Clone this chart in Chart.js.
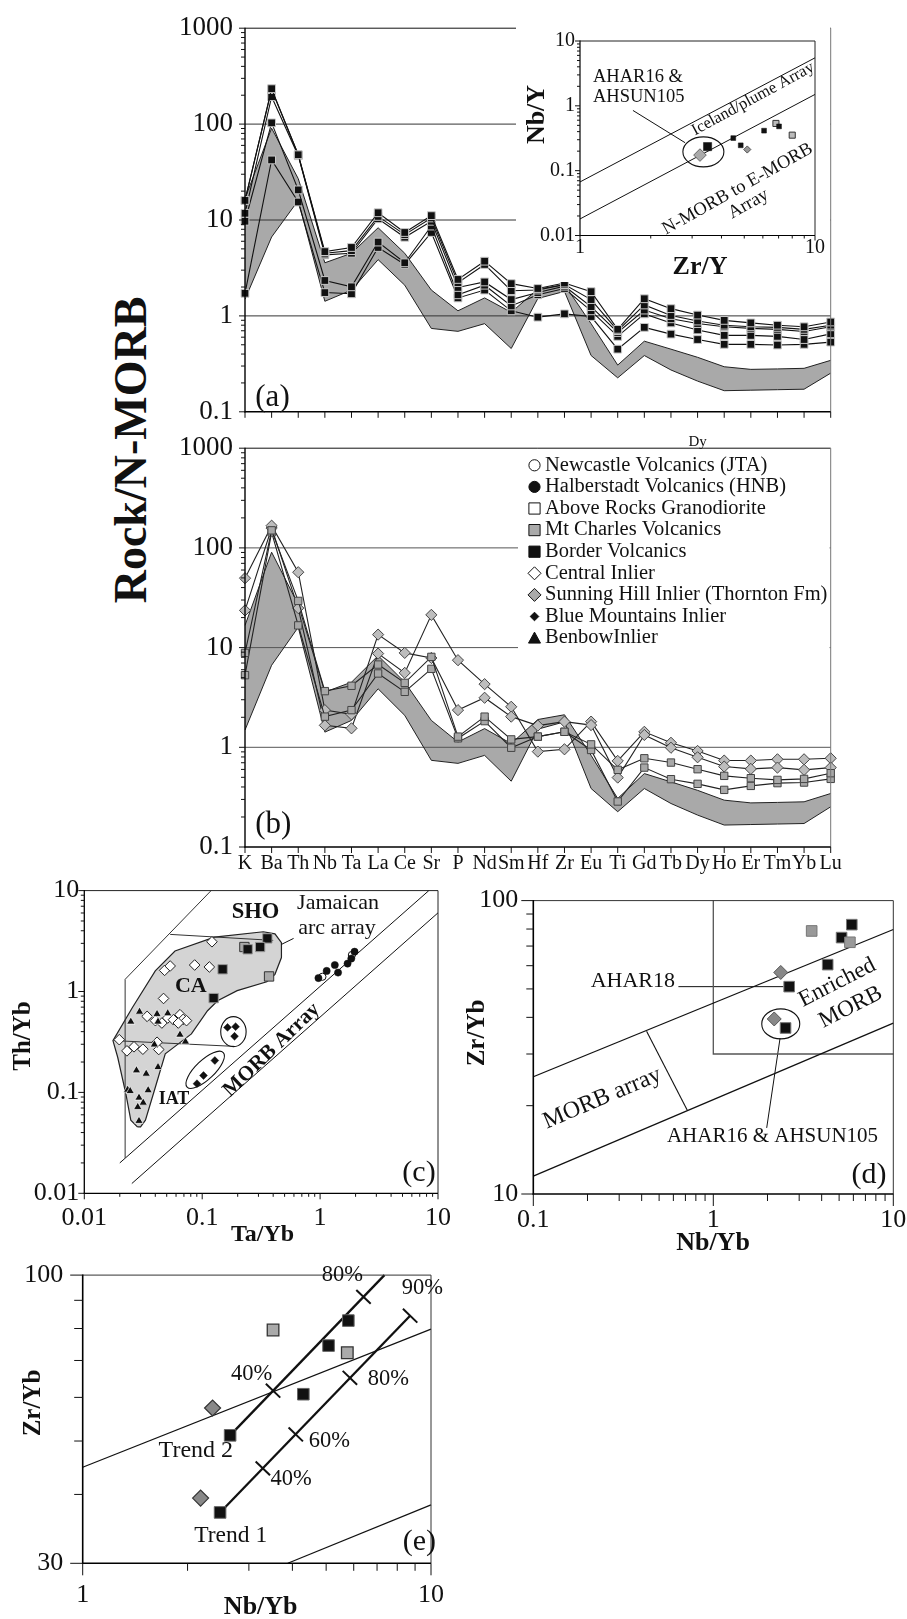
<!DOCTYPE html>
<html>
<head>
<meta charset="utf-8">
<title>Rock/N-MORB spider diagrams and discrimination plots</title>
<script src="https://cdn.jsdelivr.net/npm/chart.js@4.4.1/dist/chart.umd.min.js"></script>
<style>
html, body { margin:0; padding:0; background:#fff; }
#page { position:relative; width:907px; height:1619px; overflow:hidden; background:#fff; }
#page canvas { position:absolute; }
#ylab { position:absolute; left:131px; top:450px; transform:translate(-50%,-50%) rotate(-90deg);
  font-family:'Liberation Serif','Times New Roman',serif; font-weight:bold; font-size:46px;
  line-height:1; white-space:nowrap; color:#111; }
</style>
</head>
<body>
<div id="page"><div id="ylab">Rock/N-MORB</div></div>
<script>
// ================= DATA =================
const elements = ['K','Ba','Th','Nb','Ta','La','Ce','Sr','P','Nd','Sm','Hf','Zr','Eu','Ti','Gd','Tb','Dy','Ho','Er','Tm','Yb','Lu'];
const spiderTicks = [0.1, 1, 10, 100, 1000];
const spiderTickLabels = ['0.1', '1', '10', '100', '1000'];
// grey field (same in a and b)
const fieldUpper = [16.7, 90.5, 27, 3.58, 4.5, 8.3, 4.5, 1.86, 1.13, 1.54, 1.09, 1.9, 2.12, 0.83, 0.307, 0.545, 0.45, 0.37, 0.295, 0.277, 0.28, 0.284, 0.344];
const fieldLower = [1.49, 6.65, 16, 1.42, 1.86, 3.86, 2.09, 0.74, 0.69, 0.83, 0.457, 1.52, 1.8, 0.386, 0.226, 0.386, 0.273, 0.209, 0.166, 0.168, 0.17, 0.172, 0.253];
// panel (a): Border Volcanics
const borderA1 = [16.0, 234, 47.9, 4.68, 5.17, 11.9, 7.41, 11.1, 2.40, 3.72, 2.17, 1.93, 2.20, 1.79, 0.724, 1.51, 1.19, 1.02, 0.898, 0.845, 0.800, 0.770, 0.864];
const borderA2 = [16.0, 229, 47.9, 4.50, 4.79, 10.9, 7.03, 10.5, 2.22, 3.44, 1.83, 1.86, 2.12, 1.48, 0.702, 1.30, 1.01, 0.884, 0.800, 0.770, 0.759, 0.724, 0.800];
const borderA3 = [11.75, 193, 46.8, 4.33, 4.50, 10.3, 6.61, 9.70, 1.98, 2.26, 1.48, 1.75, 2.04, 1.25, 0.671, 1.15, 0.933, 0.832, 0.770, 0.741, 0.724, 0.687, 0.770];
const borderA4 = [9.70, 103, 20.6, 2.34, 2.01, 5.89, 3.58, 8.65, 1.66, 2.09, 1.27, 1.66, 1.93, 1.13, 0.612, 1.05, 0.845, 0.714, 0.626, 0.626, 0.612, 0.567, 0.650];
const borderA5 = [1.72, 42.3, 15.4, 1.75, 1.70, 5.17, 3.44, 7.41, 1.54, 1.86, 1.13, 0.97, 1.05, 0.985, 0.450, 0.759, 0.646, 0.567, 0.505, 0.505, 0.497, 0.505, 0.533];
// panel (b): Sunning Hill (grey diamonds) and Mt Charles (grey squares)
const sunningB1 = [49.7, 167, 57, 2.36, 2.14, 13.5, 8.85, 7.87, 2.36, 3.14, 2.03, 1.65, 1.81, 1.67, 0.497, 1.33, 0.99, 0.794, 0.641, 0.607, 0.626, 0.594, 0.626];
const sunningB2 = [23.6, 158, 24.9, 1.66, 1.55, 8.71, 5.58, 21.3, 7.48, 4.30, 2.55, 0.905, 0.955, 1.81, 0.73, 1.43, 1.11, 0.919, 0.736, 0.736, 0.758, 0.758, 0.776];
const mtCharlesB1 = [8.85, 150, 29.4, 3.66, 4.14, 6.76, 4.43, 8.07, 1.28, 2.03, 1.20, 1.28, 1.43, 1.07, 0.594, 0.776, 0.703, 0.603, 0.517, 0.49, 0.471, 0.482, 0.55];
const mtCharlesB2 = [5.29, 143, 16.7, 2.03, 2.36, 5.50, 3.60, 6.12, 1.23, 1.83, 0.99, 1.28, 1.43, 0.94, 0.286, 0.626, 0.479, 0.43, 0.374, 0.41, 0.437, 0.443, 0.482];
const legendLabels = ['Newcastle Volcanics (JTA)', 'Halberstadt Volcanics (HNB)', 'Above Rocks Granodiorite', 'Mt Charles Volcanics', 'Border Volcanics', 'Central Inlier', 'Sunning Hill Inlier (Thornton Fm)', 'Blue Mountains Inlier', 'BenbowInlier'];
const legendKinds = ['circle', 'circle', 'square', 'square', 'square', 'diamond', 'diamond', 'sdiamond', 'triangle'];
const legendFills = ['#fff', '#111', '#fff', '#aaa', '#111', '#fff', '#aaa', '#111', '#111'];

// inset of (a): Nb/Y vs Zr/Y
const insetTicksX = [1, 10], insetLabelsX = ['1', '10'];
const insetTicksY = [0.01, 0.1, 1, 10], insetLabelsY = ['0.01', '0.1', '1', '10'];
const insetIcelandZrY = [1, 10], insetIcelandNbY = [0.067, 5.5];
const insetMorbZrY = [1, 10], insetMorbNbY = [0.018, 1.5];
const insetBigDiamondZrY = [3.24], insetBigDiamondNbY = [0.174];
const insetBigSquareZrY = [3.49], insetBigSquareNbY = [0.235];
const insetBlackZrY = [4.49, 4.83, 6.07, 7.03], insetBlackNbY = [0.318, 0.246, 0.414, 0.482];
const insetDiamondZrY = [5.15], insetDiamondNbY = [0.212];
const insetGreyZrY = [6.82, 8.0], insetGreyNbY = [0.535, 0.353];
const insetLeaderZrY = [1.68, 2.80], insetLeaderNbY = [0.849, 0.27];
const insetEllipseZrY = [3.35], insetEllipseNbY = [0.195];

// panel (c): Th/Yb vs Ta/Yb
const cTicksX = [0.01, 0.1, 1, 10], cLabelsX = ['0.01', '0.1', '1', '10'];
const cTicksY = [0.01, 0.1, 1, 10], cLabelsY = ['0.01', '0.1', '1', '10'];
const cArcTa = [0.0282, 0.0248, 0.0225, 0.0192, 0.0175, 0.0256, 0.040, 0.0588, 0.127, 0.33, 0.414, 0.47, 0.47, 0.414, 0.353, 0.198, 0.135, 0.111, 0.081, 0.0552, 0.0486, 0.0401, 0.033, 0.030, 0.0282];
const cArcTh = [0.0455, 0.053, 0.097, 0.223, 0.326, 0.695, 1.60, 2.52, 3.46, 3.91, 3.73, 3.05, 2.17, 1.48, 1.25, 1.02, 0.81, 0.645, 0.38, 0.27, 0.241, 0.113, 0.053, 0.0455, 0.0455];
const cOuterTa = [0.0222, 0.0222, 0.119], cOuterTh = [0.0224, 1.32, 10];
const cMorbUpTa = [0.02, 8.36], cMorbUpTh = [0.02, 10];
const cMorbLoTa = [0.0253, 10], cMorbLoTh = [0.0125, 6.02];
const cShoTa = [0.0535, 0.40], cShoTh = [3.68, 3.21];
const cIatTa = [0.018, 0.186], cIatTh = [0.326, 0.286];
const cLeaderTa = [0.47, 0.596], cLeaderTh = [2.93, 3.36];
const cCentralTa = [0.0198, 0.0230, 0.0264, 0.0314, 0.0428, 0.0341, 0.0401, 0.048, 0.0535, 0.047, 0.0863, 0.115, 0.121, 0.051, 0.057, 0.0648, 0.069, 0.0736, 0.0627, 0.0414, 0.0455];
const cCentralTh = [0.333, 0.258, 0.283, 0.268, 0.266, 0.567, 0.514, 1.62, 1.79, 0.853, 1.83, 1.75, 3.11, 0.546, 0.525, 0.589, 0.53, 0.514, 0.487, 0.314, 0.487];
const cBenbowTa = [0.0248, 0.0294, 0.0414, 0.0422, 0.051, 0.0648, 0.0721, 0.0393, 0.0277, 0.0335, 0.0422, 0.0233, 0.0245, 0.0291, 0.0316, 0.0348, 0.0284, 0.0291];
const cBenbowTh = [0.502, 0.63, 0.598, 0.502, 0.607, 0.373, 0.318, 0.298, 0.165, 0.153, 0.178, 0.106, 0.103, 0.0886, 0.079, 0.105, 0.0716, 0.0521];
const cBorderTa = [0.357, 0.31, 0.243, 0.149, 0.125], cBorderTh = [3.36, 2.76, 2.62, 1.66, 0.86];
const cMtCharlesTa = [0.228, 0.369], cMtCharlesTh = [2.76, 1.41];
const cBlueMtnTa = [0.164, 0.192, 0.188, 0.0903, 0.1026, 0.128], cBlueMtnTh = [0.441, 0.448, 0.36, 0.122, 0.147, 0.207];
const cHalberTa = [0.968, 1.137, 1.333, 1.42, 1.71, 1.84, 1.96], cHalberTh = [1.36, 1.60, 1.83, 1.54, 1.89, 2.12, 2.48];
const cNewcastleTa = [1.046, 1.86], cNewcastleTh = [1.40, 2.30];
const cEllipseTa = [0.184, 0.106], cEllipseTh = [0.40, 0.1675];

// panel (d): Zr/Yb vs Nb/Yb
const dTicksX = [0.1, 1, 10], dLabelsX = ['0.1', '1', '10'];
const dTicksY = [10, 100], dLabelsY = ['10', '100'];
const dMorbUpNb = [0.1, 10], dMorbUpZr = [25.1, 79.7];
const dMorbLoNb = [0.1, 10], dMorbLoZr = [11.5, 38.2];
const dCrossNb = [0.426, 0.717], dCrossZr = [35.9, 19.3];
const dBoxNb = [1, 1, 10], dBoxZr = [100, 30, 30];
const dMtCharlesNb = [3.52, 5.74], dMtCharlesZr = [78.8, 72.1];
const dBorderNb = [5.88, 5.16, 4.32, 2.64, 2.52], dBorderZr = [82.8, 74.8, 60.5, 50.9, 36.8];
const dSunningNb = [2.37, 2.18], dSunningZr = [56.9, 39.5];
const dAhar18Nb = [0.64, 2.45], dAhar18Zr = [50.9, 50.9];
const dAhar16Nb = [2.35, 1.98], dAhar16Zr = [34.0, 16.8];
const dEllipseNb = [2.37], dEllipseZr = [38.0];

// panel (e): Zr/Yb vs Nb/Yb, enlarged
const eTicksX = [1, 10], eLabelsX = ['1', '10'];
const eTicksY = [30, 100], eLabelsY = ['30', '100'];
const eMinorY = [40, 50, 60, 70, 80, 90];
const eMorbUpNb = [1, 10], eMorbUpZr = [44.8, 79.8];
const eMorbLoNb = [3.88, 10], eMorbLoZr = [30, 38.3];
const eTrend1Nb = [2.48, 8.71], eTrend1Zr = [37.1, 84.4];
const eTrend2Nb = [2.65, 7.35], eTrend2Zr = [51.2, 100];
const eTrend1TickNb = [3.29, 4.09, 5.85, 8.71], eTrend1TickZr = [44.6, 51.4, 65.1, 84.4];
const eTrend2TickNb = [3.52, 6.40], eTrend2TickZr = [61.7, 91.3];
const eMtCharlesNb = [3.52, 5.75], eMtCharlesZr = [79.5, 72.3];
const eBorderNb = [5.79, 5.08, 4.30, 2.65, 2.48], eBorderZr = [82.7, 74.5, 60.8, 51.2, 37.1];
const eSunningNb = [2.36, 2.18], eSunningZr = [57.4, 39.4];

// ================= HELPERS =================
const FONT = "'Liberation Serif','Times New Roman',Times,serif";
Chart.defaults.font.family = FONT;
Chart.defaults.color = '#111';
const page = document.getElementById('page');

function makeCanvas(left, top, w, h) {
  const c = document.createElement('canvas');
  c.width = w; c.height = h;
  c.style.left = left + 'px'; c.style.top = top + 'px';
  c.style.width = w + 'px'; c.style.height = h + 'px';
  page.appendChild(c);
  return c;
}
function T(ctx, off, s, x, y, size, o) {
  o = o || {};
  ctx.save();
  ctx.font = (o.bold ? 'bold ' : '') + size + 'px ' + FONT;
  ctx.fillStyle = o.color || '#111';
  ctx.textAlign = o.align || 'center';
  ctx.textBaseline = 'middle';
  ctx.translate(x - off[0], y - off[1]);
  if (o.rot) ctx.rotate(o.rot * Math.PI / 180);
  ctx.fillText(s, 0, 0);
  ctx.restore();
}
function seg(ctx, x0, y0, x1, y1) { ctx.beginPath(); ctx.moveTo(x0, y0); ctx.lineTo(x1, y1); ctx.stroke(); }
function minorsOf(majors) {
  const out = [];
  for (let i = 0; i < majors.length - 1; i++) for (let k = 2; k <= 9; k++) out.push(+(majors[i] * k).toPrecision(6));
  return out;
}
function frame(chart, topC, rightC, axisW) {
  const ctx = chart.ctx, a = chart.chartArea;
  ctx.save();
  ctx.lineWidth = 1;
  ctx.strokeStyle = topC; seg(ctx, a.left, a.top, a.right, a.top);
  ctx.strokeStyle = rightC; seg(ctx, a.right, a.top, a.right, a.bottom);
  ctx.lineWidth = axisW || 1.4; ctx.strokeStyle = '#000';
  seg(ctx, a.left, a.top - 0.5, a.left, a.bottom + 0.7);
  seg(ctx, a.left - 0.7, a.bottom, a.right, a.bottom);
  ctx.restore();
}
function logTicks(chart, axis, majors, minors, majLen, minLen) {
  const ctx = chart.ctx, a = chart.chartArea, s = chart.scales[axis];
  ctx.save(); ctx.strokeStyle = '#111'; ctx.lineWidth = 1;
  const draw = (v, len) => {
    const p = s.getPixelForValue(v);
    if (axis === 'y') seg(ctx, a.left, p, a.left - len, p);
    else seg(ctx, p, a.bottom, p, a.bottom + len);
  };
  majors.forEach(v => draw(v, majLen));
  minors.forEach(v => draw(v, minLen));
  ctx.restore();
}
function catTicks(chart, n, len) {
  const ctx = chart.ctx, a = chart.chartArea, s = chart.scales.x;
  ctx.save(); ctx.strokeStyle = '#111'; ctx.lineWidth = 1;
  for (let i = 0; i < n; i++) { const p = s.getPixelForValue(i); seg(ctx, p, a.bottom, p, a.bottom + len); }
  ctx.restore();
}
function hGrid(chart, values, color, width) {
  const ctx = chart.ctx, a = chart.chartArea, s = chart.scales.y;
  ctx.save(); ctx.strokeStyle = color; ctx.lineWidth = width || 1;
  values.forEach(v => { const p = s.getPixelForValue(v); seg(ctx, a.left, p, a.right, p); });
  ctx.restore();
}
function ellipseAt(chart, xv, yv, rx, ry, rotDeg) {
  const ctx = chart.ctx;
  const cx = chart.scales.x.getPixelForValue(xv), cy = chart.scales.y.getPixelForValue(yv);
  ctx.save(); ctx.strokeStyle = '#111'; ctx.lineWidth = 1.1;
  ctx.beginPath(); ctx.ellipse(cx, cy, rx, ry, rotDeg * Math.PI / 180, 0, Math.PI * 2); ctx.stroke();
  ctx.restore();
}
function trendTicks(chart, lx, ly, tx, ty, half) {
  const ctx = chart.ctx, sx = chart.scales.x, sy = chart.scales.y;
  const x0 = sx.getPixelForValue(lx[0]), y0 = sy.getPixelForValue(ly[0]);
  const x1 = sx.getPixelForValue(lx[1]), y1 = sy.getPixelForValue(ly[1]);
  const L = Math.hypot(x1 - x0, y1 - y0), px = -(y1 - y0) / L, py = (x1 - x0) / L;
  ctx.save(); ctx.strokeStyle = '#111'; ctx.lineWidth = 2;
  tx.forEach((v, i) => {
    const cx = sx.getPixelForValue(v), cy = sy.getPixelForValue(ty[i]);
    seg(ctx, cx - px * half, cy - py * half, cx + px * half, cy + py * half);
  });
  ctx.restore();
}
function sym(ctx, kind, x, y, fillC) {
  ctx.save(); ctx.fillStyle = fillC; ctx.strokeStyle = '#111'; ctx.lineWidth = 1;
  ctx.beginPath();
  if (kind === 'circle') ctx.arc(x, y, 5.6, 0, Math.PI * 2);
  else if (kind === 'square') ctx.rect(x - 5.6, y - 5.6, 11.2, 11.2);
  else if (kind === 'diamond') { ctx.moveTo(x, y - 6.5); ctx.lineTo(x + 6.5, y); ctx.lineTo(x, y + 6.5); ctx.lineTo(x - 6.5, y); ctx.closePath(); }
  else if (kind === 'sdiamond') { ctx.moveTo(x, y - 4.3); ctx.lineTo(x + 4.3, y); ctx.lineTo(x, y + 4.3); ctx.lineTo(x - 4.3, y); ctx.closePath(); }
  else if (kind === 'triangle') { ctx.moveTo(x, y - 6); ctx.lineTo(x + 6, y + 5); ctx.lineTo(x - 6, y + 5); ctx.closePath(); }
  ctx.fill(); ctx.stroke(); ctx.restore();
}
function pts(xs, ys) { return xs.map((x, i) => ({x: x, y: ys[i]})); }
function lineDs(xs, ys, color, width, extra) {
  return Object.assign({data: pts(xs, ys), showLine: true, pointRadius: 0, borderColor: color,
    borderWidth: width, fill: false, clip: false, order: 5, tension: 0}, extra || {});
}
function markDs(xs, ys, style, radius, fillC, strokeC, bw) {
  return {data: pts(xs, ys), showLine: false, pointStyle: style, pointRadius: radius,
    pointBackgroundColor: fillC, pointBorderColor: strokeC, pointBorderWidth: bw,
    backgroundColor: fillC, borderColor: strokeC, clip: false, order: 1};
}
function logAxis(pos, ticks, labels, g) {
  const horiz = pos === 'bottom';
  return {
    type: 'logarithmic', position: pos, min: ticks[0], max: ticks[ticks.length - 1],
    afterBuildTicks: s => { s.ticks = ticks.map(v => ({value: v})); },
    afterFit: s => { if (horiz) s.height = g.xh; else s.width = g.yw; },
    grid: {display: false, drawTicks: false}, border: {display: false},
    ticks: {autoSkip: false, maxRotation: 0, minRotation: 0, padding: horiz ? g.xp : g.yp,
      font: {size: g.fs}, color: '#111', callback: (v, i) => labels[i]}
  };
}
function logScatter(canvas, g, xT, xL, yT, yL, datasets, plugin) {
  return new Chart(canvas, {
    type: 'scatter',
    data: {datasets: datasets},
    options: {
      responsive: false, animation: false, devicePixelRatio: 1, events: [],
      layout: {padding: {left: 0, top: g.pt, right: g.pr, bottom: 0}},
      plugins: {legend: {display: false}, tooltip: {enabled: false}, filler: {drawTime: 'beforeDatasetsDraw'}},
      scales: {x: logAxis('bottom', xT, xL, g), y: logAxis('left', yT, yL, g)}
    },
    plugins: [plugin]
  });
}
function spiderChart(canvas, pad, showX, xh, xp, datasets, plugin) {
  return new Chart(canvas, {
    type: 'line',
    data: {labels: elements, datasets: datasets},
    options: {
      responsive: false, animation: false, devicePixelRatio: 1, events: [],
      layout: {padding: pad},
      plugins: {legend: {display: false}, tooltip: {enabled: false}, filler: {drawTime: 'beforeDatasetsDraw'}},
      scales: {
        x: {type: 'category', offset: false, display: showX,
          afterFit: s => { s.height = xh; },
          grid: {display: false, drawTicks: false}, border: {display: false},
          ticks: {autoSkip: false, maxRotation: 0, minRotation: 0, padding: xp, font: {size: 20}, color: '#111'}},
        y: {type: 'logarithmic', position: 'left', min: 0.1, max: 1000,
          afterBuildTicks: s => { s.ticks = spiderTicks.map(v => ({value: v})); },
          afterFit: s => { s.width = 245; },
          grid: {display: false, drawTicks: false}, border: {display: false},
          ticks: {autoSkip: false, padding: 12, font: {size: 27}, color: '#111', callback: (v, i) => spiderTickLabels[i]}}
      }
    },
    plugins: [plugin]
  });
}
function bandSets() {
  return [
    {data: fieldUpper, borderColor: '#222', borderWidth: 1, backgroundColor: '#a9a9a9', fill: '+1', pointRadius: 0, order: 10, tension: 0},
    {data: fieldLower, borderColor: '#222', borderWidth: 1, fill: false, pointRadius: 0, order: 11, tension: 0}
  ];
}
function sampleLine(values, style) {
  return Object.assign({data: values, fill: false, borderWidth: 1.1, tension: 0, clip: false, order: 1}, style);
}
const borderStyle = {borderColor: '#111', pointStyle: 'rect', pointRadius: 5.5, pointBackgroundColor: '#111', pointBorderColor: '#c8c8c8', pointBorderWidth: 1};
const sunningStyle = {borderColor: '#222', pointStyle: 'rectRot', pointRadius: 5.6, pointBackgroundColor: '#bdbdbd', pointBorderColor: '#444', pointBorderWidth: 1};
const mtCharlesStyle = {borderColor: '#222', pointStyle: 'rect', pointRadius: 5.2, pointBackgroundColor: '#a8a8a8', pointBorderColor: '#444', pointBorderWidth: 1};

// ================= PANEL (a) =================
const offA = [0, 0];
spiderChart(makeCanvas(0, 0, 907, 440), {left: 0, top: 22.7, right: 76.3, bottom: 18.3}, false, 0, 0,
  bandSets().concat([borderA1, borderA2, borderA3, borderA4, borderA5].map(v => sampleLine(v, borderStyle))),
  {
    id: 'decorA',
    beforeDatasetsDraw(chart) { hGrid(chart, [1, 10, 100], '#333'); },
    afterDatasetsDraw(chart) {
      frame(chart, '#111', '#777');
      logTicks(chart, 'y', spiderTicks, minorsOf(spiderTicks), 6, 4);
      catTicks(chart, elements.length, 6);
    },
    afterDraw(chart) { T(chart.ctx, offA, '(a)', 272.5, 398.3, 31); }
  });

// ================= INSET =================
const offI = [516, 23.5];
logScatter(makeCanvas(516, 23.5, 314, 258.3), {pt: 12.5, pr: 15, yw: 64, xh: 46.5, xp: 0, yp: 5, fs: 20},
  insetTicksX, insetLabelsX, insetTicksY, insetLabelsY,
  [
    lineDs(insetIcelandZrY, insetIcelandNbY, '#111', 1),
    lineDs(insetMorbZrY, insetMorbNbY, '#111', 1),
    lineDs(insetLeaderZrY, insetLeaderNbY, '#111', 1),
    markDs(insetBlackZrY, insetBlackNbY, 'rect', 3.4, '#111', '#111', 0.5),
    markDs(insetDiamondZrY, insetDiamondNbY, 'rectRot', 3.6, '#999', '#333', 0.8),
    markDs(insetGreyZrY, insetGreyNbY, 'rect', 4.3, '#bbb', '#333', 1),
    markDs(insetBigSquareZrY, insetBigSquareNbY, 'rect', 5.8, '#111', '#111', 0.5),
    markDs(insetBigDiamondZrY, insetBigDiamondNbY, 'rectRot', 6.3, '#aaa', '#666', 1)
  ],
  {
    id: 'decorI',
    beforeDraw(chart) { const c = chart.ctx; c.save(); c.fillStyle = '#fff'; c.fillRect(0, 0, chart.width, chart.height); c.restore(); },
    afterDatasetsDraw(chart) {
      frame(chart, '#222', '#222', 1.2);
      logTicks(chart, 'y', insetTicksY, minorsOf(insetTicksY), 5, 3);
      logTicks(chart, 'x', insetTicksX, minorsOf(insetTicksX), 5, 3);
      ellipseAt(chart, insetEllipseZrY[0], insetEllipseNbY[0], 20.5, 15, 0);
    },
    afterDraw(chart) {
      const c = chart.ctx;
      T(c, offI, 'AHAR16 &', 593, 77, 18.5, {align: 'left'});
      T(c, offI, 'AHSUN105', 593, 97, 18.5, {align: 'left'});
      T(c, offI, 'Iceland/plume Array', 753, 98.5, 16.5, {rot: -28.5});
      T(c, offI, 'N-MORB to E-MORB', 737.5, 188.5, 18.5, {rot: -29.3});
      T(c, offI, 'Array', 748.5, 203.5, 18.5, {rot: -29.3});
      T(c, offI, 'Nb/Y', 537, 114, 26, {bold: true, rot: -90});
      T(c, offI, 'Zr/Y', 700, 267, 26, {bold: true});
    }
  });

// ================= PANEL (b) =================
const offB = [0, 420];
spiderChart(makeCanvas(0, 420, 907, 460), {left: 0, top: 27.7, right: 76.3, bottom: 0}, true, 33, 5,
  bandSets().concat([
    sampleLine(mtCharlesB1, mtCharlesStyle), sampleLine(mtCharlesB2, mtCharlesStyle),
    sampleLine(sunningB1, sunningStyle), sampleLine(sunningB2, sunningStyle)
  ]),
  {
    id: 'decorB',
    beforeDatasetsDraw(chart) {
      hGrid(chart, [1, 10, 100], '#555');
      const c = chart.ctx; c.save(); c.fillStyle = '#fff';
      c.fillRect(518 - offB[0], 448.6 - offB[1], 311.6, 206.4); c.restore();
    },
    afterDatasetsDraw(chart) {
      frame(chart, '#111', '#777');
      logTicks(chart, 'y', spiderTicks, minorsOf(spiderTicks), 6, 4);
      catTicks(chart, elements.length, 6);
    },
    afterDraw(chart) {
      const c = chart.ctx;
      T(c, offB, '(b)', 273.3, 825, 31);
      T(c, offB, 'Dy', 697.6, 442, 15);
      legendLabels.forEach((lab, i) => {
        const y = 465.3 + i * 21.6;
        sym(c, legendKinds[i], 534.5 - offB[0], y - offB[1], legendFills[i]);
        T(c, offB, lab, 545, y, 20.5, {align: 'left'});
      });
    }
  });

// ================= PANEL (c) =================
const offC = [0, 870];
logScatter(makeCanvas(0, 870, 460, 390), {pt: 19.3, pr: 15.7, yw: 84.3, xh: 66.7, xp: 9, yp: 5, fs: 26},
  cTicksX, cLabelsX, cTicksY, cLabelsY,
  [
    lineDs(cArcTa, cArcTh, '#222', 1.2, {fill: 'shape', backgroundColor: '#d4d4d4', order: 8}),
    lineDs(cOuterTa, cOuterTh, '#333', 1),
    lineDs(cMorbUpTa, cMorbUpTh, '#111', 1),
    lineDs(cMorbLoTa, cMorbLoTh, '#111', 1),
    lineDs(cShoTa, cShoTh, '#333', 1),
    lineDs(cIatTa, cIatTh, '#333', 1),
    lineDs(cLeaderTa, cLeaderTh, '#111', 1),
    markDs(cBenbowTa, cBenbowTh, 'triangle', 4.8, '#111', '#fff', 0.7),
    markDs(cCentralTa, cCentralTh, 'rectRot', 5.3, '#fff', '#222', 1),
    markDs(cBorderTa, cBorderTh, 'rect', 6.6, '#111', '#999', 1),
    markDs(cMtCharlesTa, cMtCharlesTh, 'rect', 6.6, '#aaa', '#333', 1),
    markDs(cBlueMtnTa, cBlueMtnTh, 'rectRot', 3.9, '#111', '#111', 0.5),
    markDs(cHalberTa, cHalberTh, 'circle', 3.6, '#111', '#111', 0.5),
    markDs(cNewcastleTa, cNewcastleTh, 'circle', 3.6, '#fff', '#111', 1)
  ],
  {
    id: 'decorC',
    afterDatasetsDraw(chart) {
      frame(chart, '#222', '#222', 1.3);
      logTicks(chart, 'y', cTicksY, minorsOf(cTicksY), 6, 3.5);
      logTicks(chart, 'x', cTicksX, minorsOf(cTicksX), 6, 3.5);
      ellipseAt(chart, cEllipseTa[0], cEllipseTh[0], 12.7, 15, 0);
      ellipseAt(chart, cEllipseTa[1], cEllipseTh[1], 25, 9.5, -43.7);
    },
    afterDraw(chart) {
      const c = chart.ctx;
      T(c, offC, 'SHO', 255.5, 911.7, 22.6, {bold: true});
      T(c, offC, 'Jamaican', 338, 903.3, 22);
      T(c, offC, 'arc array', 337, 928.3, 22);
      T(c, offC, 'CA', 190.8, 986.7, 22, {bold: true});
      T(c, offC, 'IAT', 174, 1099.3, 18, {bold: true});
      T(c, offC, 'MORB Array', 271.7, 1050, 21, {bold: true, rot: -44});
      T(c, offC, '(c)', 419, 1173.3, 30);
      T(c, offC, 'Th/Yb', 24, 1036, 25, {bold: true, rot: -90});
      T(c, offC, 'Ta/Yb', 262.5, 1234.5, 24, {bold: true});
    }
  });

// ================= PANEL (d) =================
const offD = [440, 870];
logScatter(makeCanvas(440, 870, 480, 390), {pt: 19.3, pr: 26.7, yw: 93.3, xh: 66, xp: 10.4, yp: 15, fs: 26},
  dTicksX, dLabelsX, dTicksY, dLabelsY,
  [
    lineDs(dMorbUpNb, dMorbUpZr, '#111', 1.3),
    lineDs(dMorbLoNb, dMorbLoZr, '#111', 1.3),
    lineDs(dCrossNb, dCrossZr, '#111', 1.1),
    lineDs(dBoxNb, dBoxZr, '#555', 1.3),
    lineDs(dAhar18Nb, dAhar18Zr, '#111', 1),
    lineDs(dAhar16Nb, dAhar16Zr, '#111', 1),
    markDs(dMtCharlesNb, dMtCharlesZr, 'rect', 7.5, '#999', '#777', 1),
    markDs(dBorderNb, dBorderZr, 'rect', 7.5, '#111', '#777', 1),
    markDs(dSunningNb, dSunningZr, 'rectRot', 7, '#888', '#555', 1)
  ],
  {
    id: 'decorD',
    afterDatasetsDraw(chart) {
      frame(chart, '#333', '#333', 1.6);
      logTicks(chart, 'y', dTicksY, minorsOf(dTicksY), 12, 7);
      logTicks(chart, 'x', dTicksX, minorsOf(dTicksX), 12, 7);
      ellipseAt(chart, dEllipseNb[0], dEllipseZr[0], 19, 15, 0);
    },
    afterDraw(chart) {
      const c = chart.ctx;
      T(c, offD, 'AHAR18', 675, 981.7, 22, {align: 'right'});
      T(c, offD, 'Enriched', 837.3, 982.7, 23, {rot: -27});
      T(c, offD, 'MORB', 850.7, 1007.3, 23, {rot: -27});
      T(c, offD, 'MORB array', 602.3, 1098.3, 24, {rot: -23});
      T(c, offD, 'AHAR16 & AHSUN105', 772.5, 1136.7, 21);
      T(c, offD, '(d)', 869, 1175, 30);
      T(c, offD, 'Zr/Yb', 478, 1033, 25, {bold: true, rot: -90});
      T(c, offD, 'Nb/Yb', 713, 1243, 26, {bold: true});
    }
  });

// ================= PANEL (e) =================
const offE = [0, 1240];
logScatter(makeCanvas(0, 1240, 460, 379), {pt: 17.7, pr: 16.7, yw: 82.7, xh: 55.7, xp: 16, yp: 19.5, fs: 26},
  eTicksX, eLabelsX, eTicksY, eLabelsY,
  [
    lineDs(eMorbUpNb, eMorbUpZr, '#111', 1.2),
    lineDs(eMorbLoNb, eMorbLoZr, '#111', 1.2),
    lineDs(eTrend1Nb, eTrend1Zr, '#111', 2.3),
    lineDs(eTrend2Nb, eTrend2Zr, '#111', 2.3),
    markDs(eMtCharlesNb, eMtCharlesZr, 'rect', 8.2, '#aaa', '#333', 1.3),
    markDs(eBorderNb, eBorderZr, 'rect', 8.2, '#111', '#666', 1),
    markDs(eSunningNb, eSunningZr, 'rectRot', 8, '#888', '#333', 1.2)
  ],
  {
    id: 'decorE',
    afterDatasetsDraw(chart) {
      frame(chart, '#333', '#333', 1.6);
      logTicks(chart, 'y', eTicksY, eMinorY, 12.5, 8.5);
      logTicks(chart, 'x', eTicksX, minorsOf(eTicksX), 12, 7.5);
      trendTicks(chart, eTrend1Nb, eTrend1Zr, eTrend1TickNb, eTrend1TickZr, 10);
      trendTicks(chart, eTrend2Nb, eTrend2Zr, eTrend2TickNb, eTrend2TickZr, 10);
    },
    afterDraw(chart) {
      const c = chart.ctx;
      T(c, offE, '80%', 342.3, 1275, 22.5);
      T(c, offE, '90%', 422.3, 1288.3, 22.5);
      T(c, offE, '40%', 251.7, 1374, 22.5);
      T(c, offE, '80%', 388.3, 1379, 22.5);
      T(c, offE, '60%', 329.3, 1440.7, 22.5);
      T(c, offE, '40%', 291, 1479.3, 22.5);
      T(c, offE, 'Trend 2', 195.8, 1450.7, 24);
      T(c, offE, 'Trend 1', 230.7, 1536, 23.5);
      T(c, offE, '(e)', 419.3, 1541.7, 30);
      T(c, offE, 'Zr/Yb', 34, 1403, 25, {bold: true, rot: -90});
      T(c, offE, 'Nb/Yb', 260.7, 1607, 26, {bold: true});
    }
  });
</script>
</body>
</html>
